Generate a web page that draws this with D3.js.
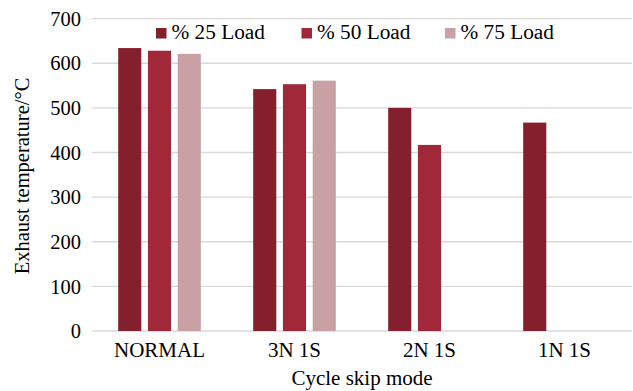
<!DOCTYPE html>
<html><head><meta charset="utf-8">
<script src="https://cdn.jsdelivr.net/npm/d3@7"></script>
<style>body{margin:0;background:#fff}svg{display:block}</style>
</head><body><svg id="c" width="633" height="391"></svg>
<script>
const categories = ["NORMAL", "3N 1S", "2N 1S", "1N 1S"];
const seriesNames = ["% 25 Load", "% 50 Load", "% 75 Load"];
const load25 = [634, 542, 500, 467];
const load50 = [628, 553, 417, null];
const load75 = [621, 561, null, null];
const yTicks = [0, 100, 200, 300, 400, 500, 600, 700];
const colors = ["#841f2d", "#a02839", "#c9a1a5"];

(function () {
const seriesValues = [load25, load50, load75];
const svg = d3.select("#c").style("font-family", "'Liberation Serif', 'Times New Roman', Times, serif");
const mLeft = 92, mRight = 632, mTop = 18.6, mBottom = 331;

const x0 = d3.scaleBand().domain(categories).range([mLeft, mRight]).padding(0);
const x1 = d3.scaleBand().domain(seriesNames).range([0, x0.bandwidth()]).paddingInner(0.223).paddingOuter(0.88);
const y = d3.scaleLinear().domain([0, 700]).range([mBottom, mTop]);

svg.append("g").selectAll("line").data(yTicks).join("line")
  .attr("x1", mLeft).attr("x2", mRight)
  .attr("y1", d => y(d)).attr("y2", d => y(d))
  .attr("stroke", "#d9d9d9").attr("stroke-width", 1.3);

svg.append("g").selectAll("text").data(yTicks).join("text")
  .attr("x", 81).attr("y", d => y(d)).attr("dy", "0.35em")
  .attr("text-anchor", "end").attr("font-size", 20.5).text(d => d);

seriesNames.forEach((s, si) => {
  const data = categories.map((c, ci) => ({c, v: seriesValues[si][ci]})).filter(d => d.v != null);
  svg.append("g").selectAll("rect").data(data).join("rect")
    .attr("x", d => x0(d.c) + x1(s))
    .attr("width", x1.bandwidth())
    .attr("y", d => y(d.v))
    .attr("height", d => y(0) - y(d.v))
    .attr("fill", colors[si]);
});

svg.append("g").selectAll("text").data(categories).join("text")
  .attr("x", d => x0(d) + x0.bandwidth() / 2).attr("y", 357)
  .attr("text-anchor", "middle").attr("font-size", 21).text(d => d);

svg.append("text").attr("x", 362).attr("y", 385).attr("text-anchor", "middle")
  .attr("font-size", 21).text("Cycle skip mode");
svg.append("text").attr("transform", "translate(29,176) rotate(-90)")
  .attr("text-anchor", "middle").attr("font-size", 20.5).text("Exhaust temperature/°C");

const legendX = [156, 301.5, 445];
const lg = svg.append("g").selectAll("g").data(seriesNames).join("g")
  .attr("transform", (d, i) => `translate(${legendX[i]},28)`);
lg.append("rect").attr("width", 10.5).attr("height", 10.5).attr("fill", (d, i) => colors[i]);
lg.append("text").attr("x", 15.5).attr("y", 11.3).attr("font-size", 21.3).text(d => d);
})();
</script></body></html>
